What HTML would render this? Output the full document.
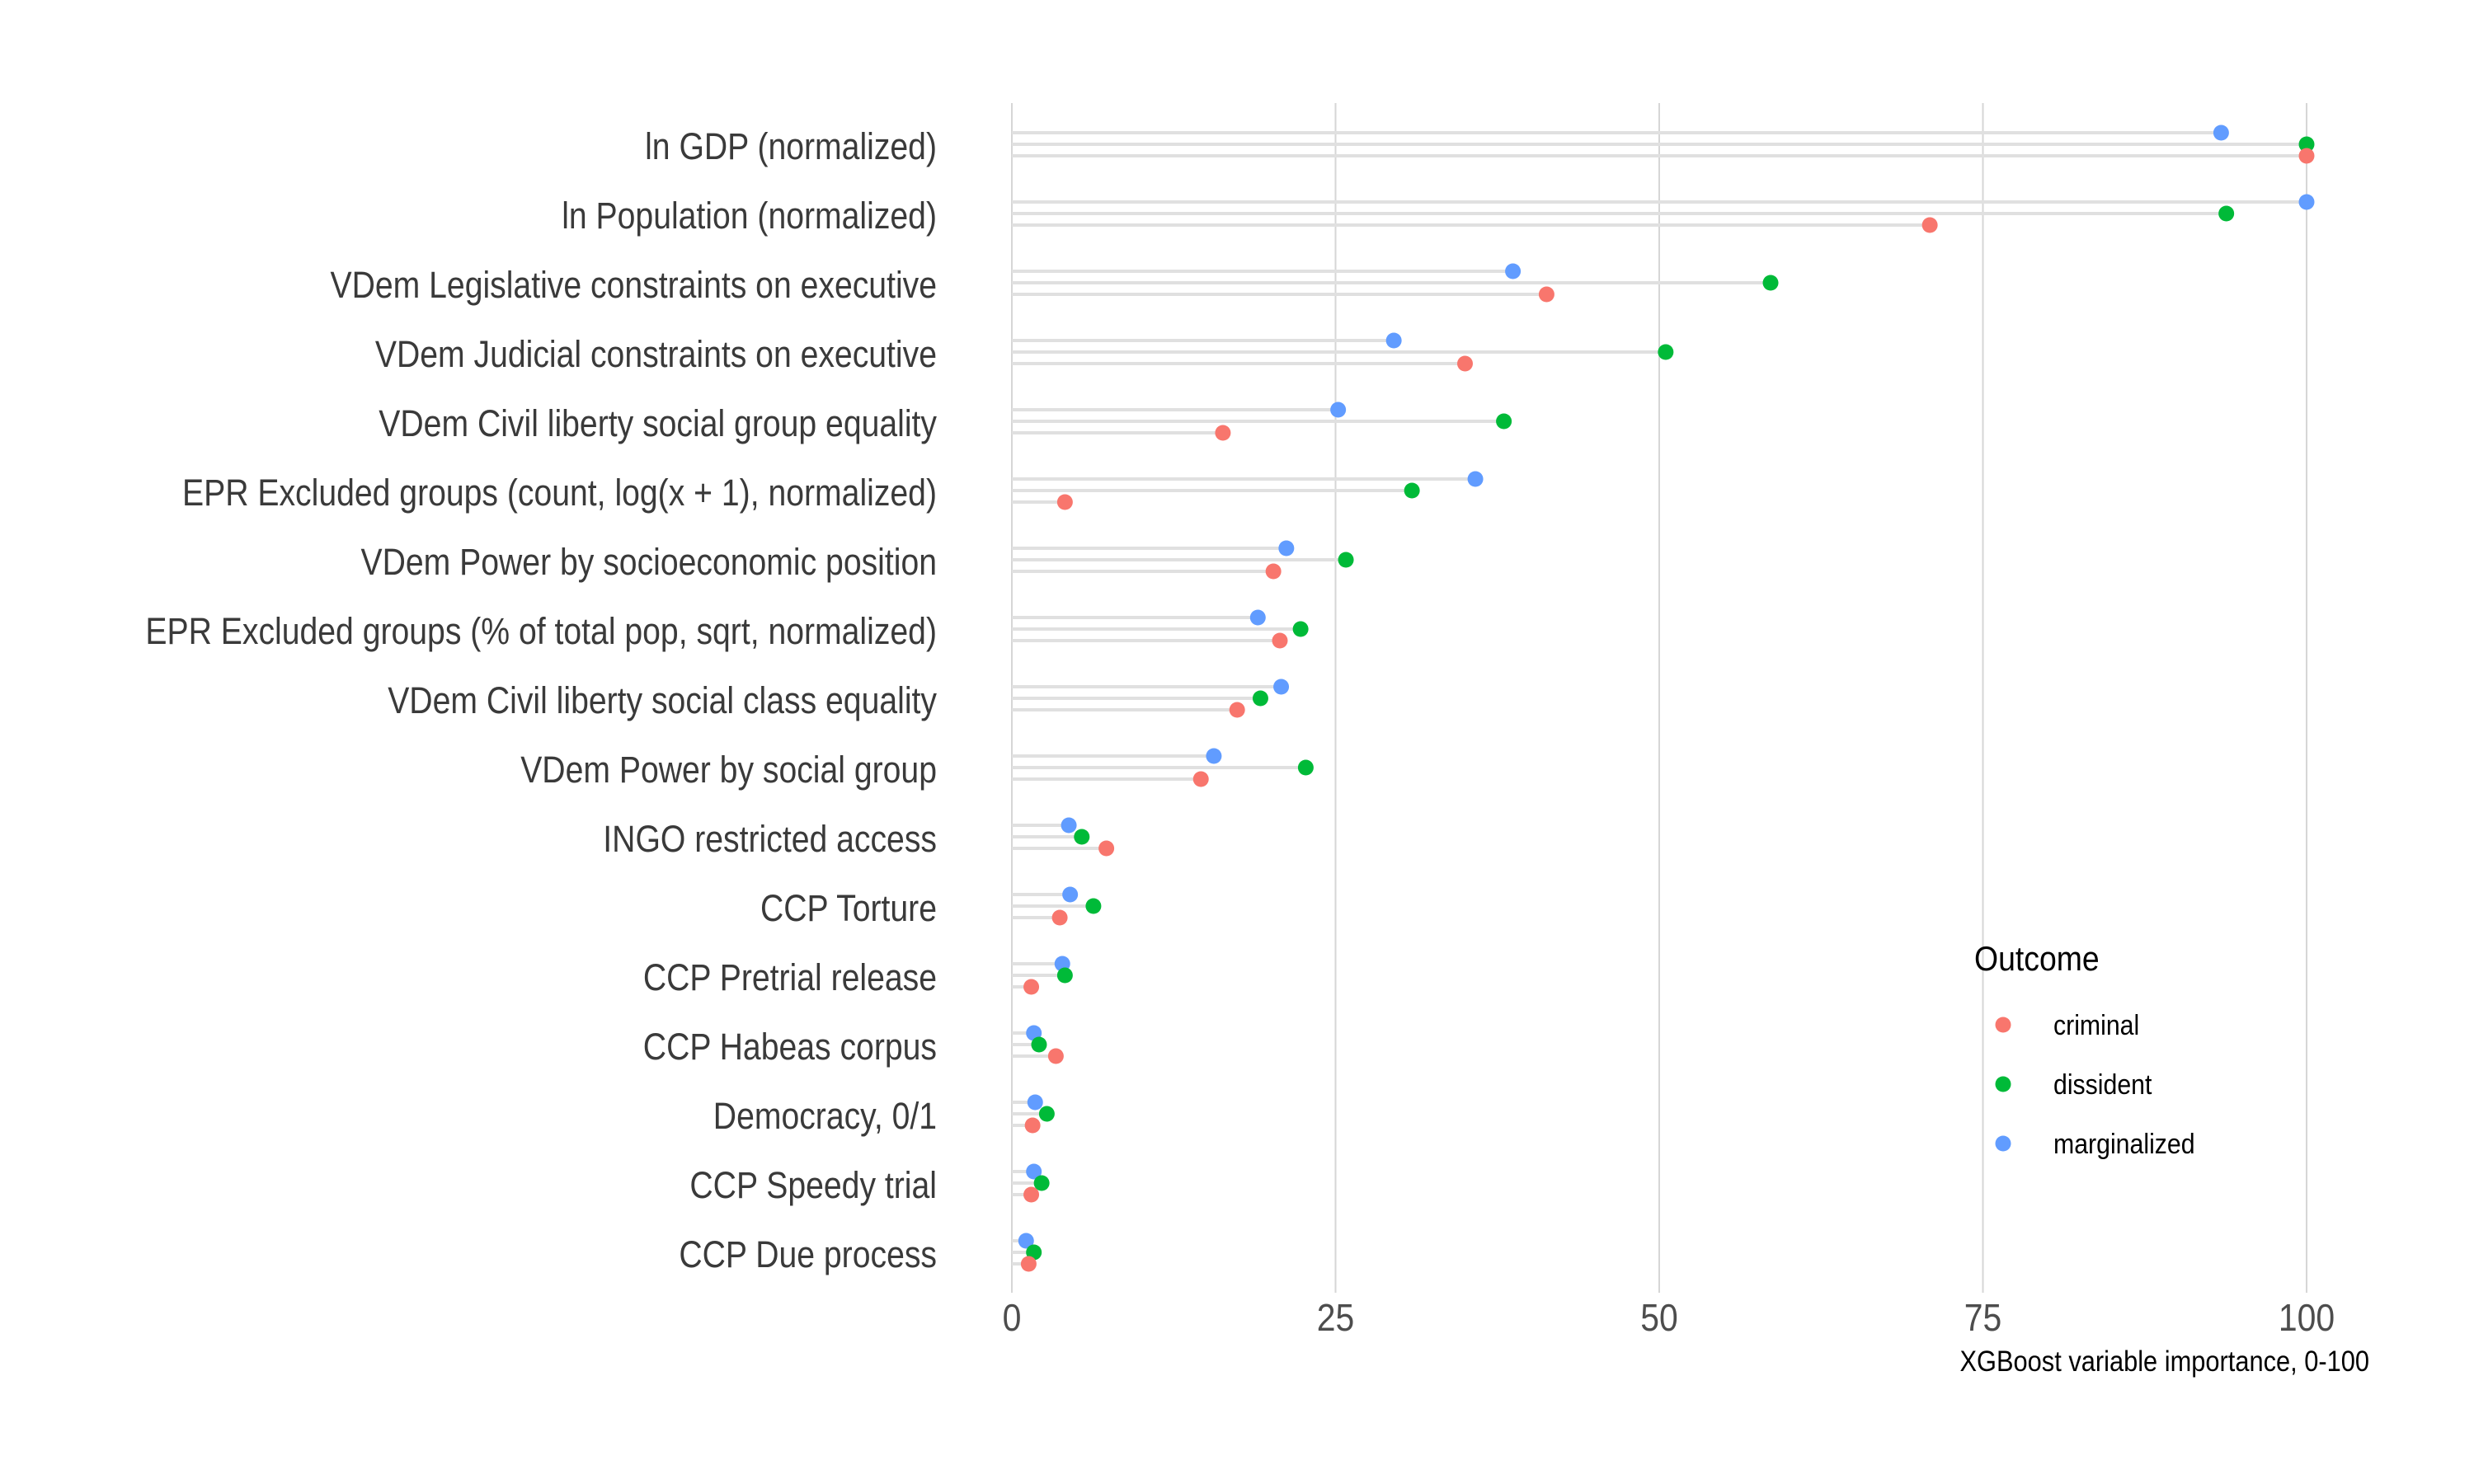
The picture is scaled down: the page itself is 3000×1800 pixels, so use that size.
<!DOCTYPE html>
<html><head><meta charset="utf-8"><style>
html,body{margin:0;padding:0;background:#fff}
svg{display:block;font-family:"Liberation Sans",Arial,sans-serif}
</style></head><body>
<svg id="chart" width="3000" height="1800" viewBox="0 0 3000 1800">
<g id="grid"></g>
<g id="bars"></g>
<g id="dots"></g>
<g id="ylabels"></g>
<g id="xlabels"></g>
<text id="xtitle" x="2873" y="1663" font-size="35" text-anchor="end" fill="#000">XGBoost variable importance, 0-100</text>
<g id="legend">
<text x="2394" y="1177" font-size="42" fill="#000" class="cond">Outcome</text>
</g>
</svg>
<script>
const categories = ["ln GDP (normalized)","ln Population (normalized)","VDem Legislative constraints on executive","VDem Judicial constraints on executive","VDem Civil liberty social group equality","EPR Excluded groups (count, log(x + 1), normalized)","VDem Power by socioeconomic position","EPR Excluded groups (% of total pop, sqrt, normalized)","VDem Civil liberty social class equality","VDem Power by social group","INGO restricted access","CCP Torture","CCP Pretrial release","CCP Habeas corpus","Democracy, 0/1","CCP Speedy trial","CCP Due process"];
const marginalized = [93.4,100,38.7,29.5,25.2,35.8,21.2,19.0,20.8,15.6,4.4,4.5,3.9,1.7,1.8,1.7,1.1];
const dissident = [100,93.8,58.6,50.5,38.0,30.9,25.8,22.3,19.2,22.7,5.4,6.3,4.1,2.1,2.7,2.3,1.7];
const criminal = [100,70.9,41.3,35.0,16.3,4.1,20.2,20.7,17.4,14.6,7.3,3.7,1.5,3.4,1.6,1.5,1.3];
const xTicks = [0,25,50,75,100];
const seriesNames = ["criminal","dissident","marginalized"];

const NS="http://www.w3.org/2000/svg";
const X0=1227, X1=2797, YTOP=125, YBOT=1568;
const xScale=v=>X0+(X1-X0)*v/100;
const yScale=i=>175+84*i;
const colors={criminal:"#F8766D",dissident:"#00BA38",marginalized:"#619CFF"};
const offsets={marginalized:-14,dissident:0,criminal:14};
const dataBy={marginalized,dissident,criminal};
function mk(tag,attrs,parent){const e=document.createElementNS(NS,tag);for(const k in attrs)e.setAttribute(k,attrs[k]);parent.appendChild(e);return e;}
const grid=document.getElementById('grid'),bars=document.getElementById('bars'),dots=document.getElementById('dots');
const yl=document.getElementById('ylabels'),xl=document.getElementById('xlabels'),lg=document.getElementById('legend');
xTicks.forEach(t=>{
  const l=mk('line',{x1:xScale(t),x2:xScale(t),y1:YTOP,y2:YBOT,stroke:"#d6d6d6","stroke-width":2},grid);
  
  
  const tx=mk('text',{x:xScale(t),y:1614,"font-size":46,"text-anchor":"middle",fill:"#4d4d4d","data-c":"0.89"},xl);
  tx.textContent=t;
  
  
});
categories.forEach((c,i)=>{
  const t=mk('text',{x:1136,y:yScale(i)+18,"font-size":45,"text-anchor":"end",fill:"#3a3a3a","data-c":"0.87"},yl);
  t.textContent=c;
  
  
  ["marginalized","dissident","criminal"].forEach(s=>{
    const v=dataBy[s][i], y=yScale(i)+offsets[s];
    const b=mk('line',{x1:X0,x2:xScale(v),y1:y,y2:y,stroke:"#e0e0e0","stroke-width":4},bars);
    
    
    const d=mk('circle',{cx:xScale(v),cy:y,r:9.5,fill:colors[s]},dots);
    
    
  });
});
seriesNames.forEach((s,k)=>{
  const y=1243+72*k;
  const d=mk('circle',{cx:2429,cy:y,r:9.5,fill:colors[s]},lg);
  
  
  const t=mk('text',{x:2490,y:y+12,"font-size":34,fill:"#000","data-c":"0.89"},lg);
  t.textContent=s;
  
  
});
document.querySelectorAll('text').forEach(t=>{
  const w=t.getComputedTextLength();
  const f=parseFloat(t.getAttribute('data-c')||(t.id==='xtitle'?'0.88':'0.89'));
  if(w>0){t.setAttribute('textLength',(w*f).toFixed(1));t.setAttribute('lengthAdjust','spacingAndGlyphs');}
});
</script>
</body></html>
